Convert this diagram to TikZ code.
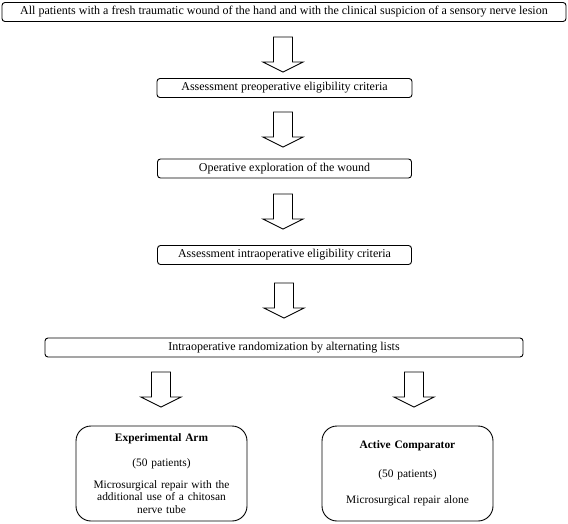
\documentclass[tikz,border=0pt]{standalone}
\usepackage{fontspec}
\setmainfont{Liberation Serif}

\tikzset{
  stepbox/.style={draw, line width=0.9pt, rounded corners=3pt, inner sep=0pt,
    minimum height=19pt, font=\fontsize{12}{14}\selectfont},
  armbox/.style={draw, line width=0.9pt, rounded corners=15pt, inner sep=0pt,
    minimum width=171pt, minimum height=95pt, text width=165pt, align=center,
    font=\fontsize{11.4}{12.5}\selectfont},
  fatarrow/.pic={\draw[line width=0.9pt] (-9.5,0) -- (9.5,0) -- (9.5,25) -- (20,25)
    -- (0,35) -- (-20,25) -- (-9.5,25) -- cycle;}
}

\begin{document}
\begin{tikzpicture}[x=1pt,y=-1pt]
\useasboundingbox (0,0) rectangle (568,523);
% steps
\node[stepbox, minimum width=564pt] (all) at (284,12) {All patients with a fresh traumatic wound of the hand and with the clinical suspicion of a sensory nerve lesion};
\node[stepbox, minimum width=255pt] (preop) at (284.5,88) {Assessment preoperative eligibility criteria};
\node[stepbox, minimum width=254pt] (explore) at (284.5,168.5) {Operative exploration of the wound};
\node[stepbox, minimum width=254pt] (intraop) at (284.5,255) {Assessment intraoperative eligibility criteria};
\node[stepbox, minimum width=478pt] (random) at (284,347.5) {Intraoperative randomization by alternating lists};
% arms
\node[armbox] (exparm) at (161.5,473.5) {\textbf{Experimental Arm}\\[13pt] (50 patients)\\[9pt] Microsurgical repair with the\\ additional use of a chitosan\\ nerve tube};
\node[armbox] (comparm) at (407.5,473.5) {\textbf{Active Comparator}\\[16pt] (50 patients)\\[14pt] Microsurgical repair alone};
% arrows
\coordinate (a1) at (283,37);
\coordinate (a2) at (283,112);
\coordinate (a3) at (283,194);
\coordinate (a4) at (284,283);
\coordinate (a5) at (161,372);
\coordinate (a6) at (414,372);
\foreach \a in {a1,a2,a3,a4,a5,a6}
  \pic at (\a) {fatarrow};
\end{tikzpicture}
\end{document}
